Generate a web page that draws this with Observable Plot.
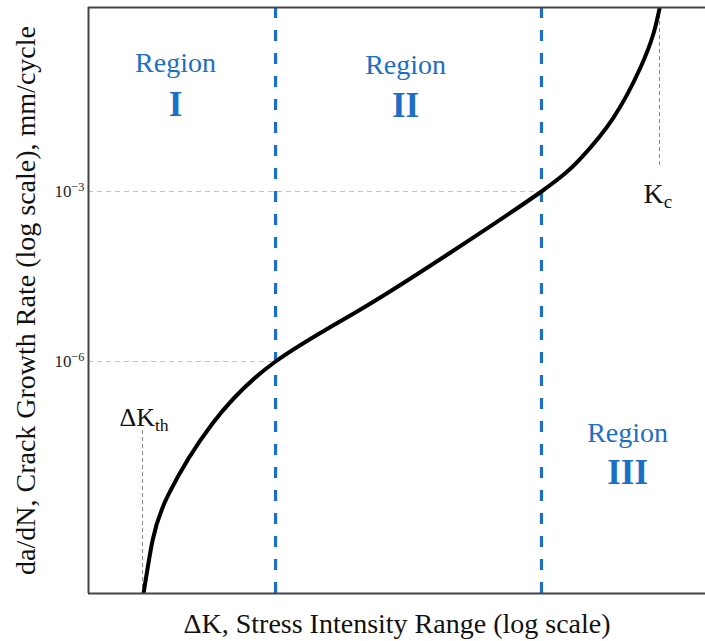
<!DOCTYPE html>
<html>
<head>
<meta charset="utf-8">
<script src="https://cdn.jsdelivr.net/npm/d3@7"></script>
<script src="https://cdn.jsdelivr.net/npm/@observablehq/plot@0.6"></script>
<style>
  html, body { margin: 0; padding: 0; background: #fff; }
  #chart svg { display: block; }
</style>
</head>
<body>
<div id="chart"></div>
<script>
// Stress intensity range ΔK (arbitrary units, log scale) and crack growth rate da/dN (mm/cycle, log scale)
const deltaK = [1.508, 1.613, 1.817, 2.523, 4.04, 7.615, 14.91, 29.4, 39.34, 50.33, 61.55, 67.83, 70.93];
const growthRate = [8.05e-11, 6.93e-10, 4.50e-9, 8.05e-8, 1e-6, 8.28e-6, 8.39e-5, 1e-3, 3.82e-3, 2.02e-2, 0.154, 0.614, 1.69];

const xDomain = [1, 100];
const yDomain = [8.05e-11, 1.766];

const regionBounds = [4.04, 29.4];          // boundaries between regions I/II and II/III
const rateTicks = [1e-6, 1e-3];
const rateTickLabels = ["10^-6", "10^-3"];
const deltaKth = 1.496;
const deltaKc = 70.93;

const regionNames = ["Region", "Region", "Region"];
const regionNumerals = ["I", "II", "III"];
const regionX = [1.915, 10.66, 55.9];
const regionNameY = [0.126, 0.120, 3.87e-8];
const regionNumeralY = [0.0219, 0.0205, 7.03e-9];

const xTitle = "ΔK, Stress Intensity Range (log scale)";
const yTitle = "da/dN, Crack Growth Rate (log scale), mm/cycle";

const curve = deltaK.map((k, i) => ({k, r: growthRate[i]}));
const regions = regionNames.map((n, i) => ({name: n, numeral: regionNumerals[i], x: regionX[i], yn: regionNameY[i], yr: regionNumeralY[i]}));
const ticks = rateTicks.map((v, i) => ({v, label: rateTickLabels[i]}));

const blue = "#1b6fc6";
const font = "'Liberation Serif', 'DejaVu Serif', serif";

const chart = Plot.plot({
  width: 705,
  height: 641,
  marginLeft: 88,
  marginRight: 0,
  marginTop: 7,
  marginBottom: 48,
  style: {fontFamily: font, background: "#fff", color: "#222"},
  x: {type: "log", domain: xDomain, axis: null},
  y: {type: "log", domain: yDomain, axis: null},
  marks: [
    // horizontal dashed guides at the tick values, up to the region boundary
    Plot.ruleY(rateTicks, {x1: xDomain[0], x2: (d, i) => regionBounds[i], stroke: "#c4c4c4", strokeWidth: 1.2, strokeDasharray: "5,4"}),
    // ΔKth and Kc guides
    Plot.ruleX([deltaKth], {y1: 6.05e-8, y2: yDomain[0], stroke: "#888", strokeWidth: 1, strokeDasharray: "4,3"}),
    Plot.ruleX([deltaKc], {y1: yDomain[1], y2: 2.88e-3, stroke: "#888", strokeWidth: 1, strokeDasharray: "4,3"}),
    // region boundaries
    Plot.ruleX(regionBounds, {y1: yDomain[0], y2: yDomain[1], stroke: blue, strokeWidth: 3.2, strokeDasharray: "11,12"}),
    // curve
    Plot.line(curve, {x: "k", y: "r", curve: "natural", stroke: "#000", strokeWidth: 4, clip: true}),
    // frame (left, top, bottom)
    Plot.ruleX([xDomain[0]], {stroke: "#444", strokeWidth: 2}),
    Plot.ruleY(yDomain, {stroke: "#444", strokeWidth: 1.8}),
    // y tick labels
    Plot.text(ticks, {x: xDomain[0], y: "v", text: "label", dx: -4, textAnchor: "end", lineAnchor: "middle", fontSize: 17, fill: "#222"}),
    // region labels
    Plot.text(regions, {x: "x", y: "yn", text: "name", fill: blue, fontSize: 28, lineAnchor: "bottom"}),
    Plot.text(regions, {x: "x", y: "yr", text: "numeral", fill: blue, fontSize: 35, fontWeight: "bold", lineAnchor: "bottom"}),
    // ΔKth and Kc labels
    Plot.text(["ΔK_th"], {x: 1.26, y: 7.13e-8, text: d => d, textAnchor: "start", lineAnchor: "bottom", fontSize: 26, fill: "#111"}),
    Plot.text(["K_c"], {x: 63.0, y: 6.14e-4, text: d => d, textAnchor: "start", lineAnchor: "bottom", fontSize: 28, fill: "#111"}),
    // axis titles
    Plot.text([xTitle], {frameAnchor: "bottom", dy: 39, lineAnchor: "bottom", fontSize: 28, fill: "#111"}),
    Plot.text([yTitle], {frameAnchor: "left", dx: -62, rotate: -90, textAnchor: "middle", lineAnchor: "middle", fontSize: 28, fill: "#111"})
  ]
});

// superscripts (^) and subscripts (_) in labels
d3.select(chart).selectAll("text").each(function () {
  const t = this.textContent;
  const sup = t.indexOf("^"), sub = t.indexOf("_");
  if (sup < 0 && sub < 0) return;
  const sel = d3.select(this);
  if (sup >= 0) {
    sel.text(t.slice(0, sup));
    sel.append("tspan").attr("dy", "-0.45em").attr("font-size", "72%").text(t.slice(sup + 1).replace("-", "\u2212"));
  } else {
    sel.text(t.slice(0, sub));
    sel.append("tspan").attr("dy", "0.25em").attr("font-size", "68%").text(t.slice(sub + 1));
  }
});

document.getElementById("chart").appendChild(chart);
</script>
</body>
</html>
